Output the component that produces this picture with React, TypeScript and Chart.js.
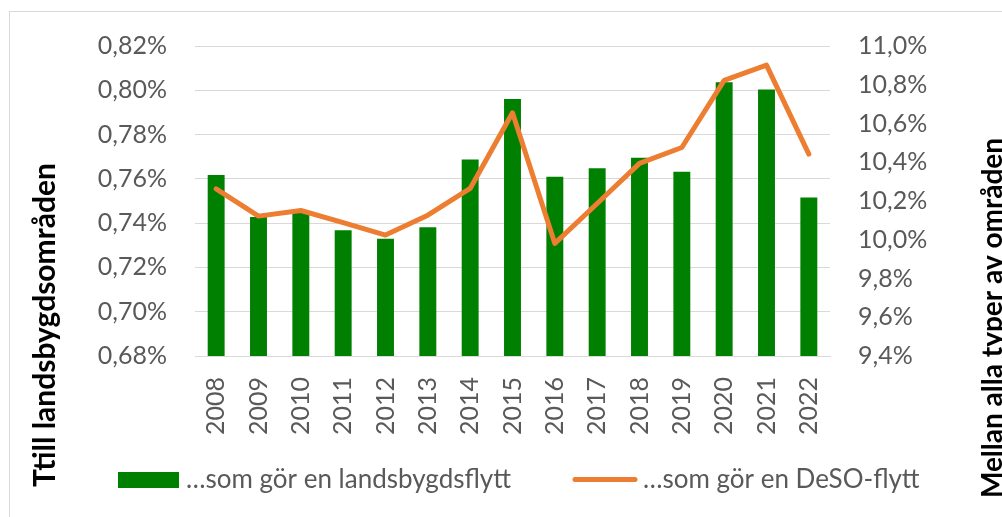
import React, { useEffect, useRef } from "react";
import { Chart, registerables } from "chart.js";

Chart.register(...registerables);

const years = ["2008","2009","2010","2011","2012","2013","2014","2015","2016","2017","2018","2019","2020","2021","2022"];
const landsbygdsflytt = [0.7617,0.7428,0.7447,0.7368,0.7329,0.7382,0.7687,0.7961,0.7609,0.7648,0.7695,0.7632,0.8036,0.8003,0.7516];
const desoFlytt = [10.263,10.122,10.151,10.088,10.024,10.127,10.265,10.655,9.981,10.187,10.394,10.476,10.823,10.901,10.442];
const seriesNames = ["…som gör en landsbygdsflytt", "…som gör en DeSO-flytt"];
const leftTitle = "Ttill landsbygdsområden";
const rightTitle = "Mellan alla typer av områden";

const GREEN = "#008000";
const ORANGE = "#ED7D31";
const GRAY = "#595959";
const FONT = "Lato";

const decor = {
  id: "decor",
  beforeDraw(chart: any) {
    const ctx = chart.ctx;
    ctx.save();
    ctx.fillStyle = "#ffffff";
    ctx.fillRect(0, 0, chart.width, chart.height);
    ctx.strokeStyle = "#d9d9d9";
    ctx.lineWidth = 1;
    ctx.strokeRect(9.5, 11.5, chart.width + 10, chart.height + 10);
    ctx.restore();
  },
  afterDraw(chart: any) {
    const ctx = chart.ctx;
    ctx.save();
    // axis titles
    ctx.fillStyle = "#000000";
    ctx.textAlign = "center";
    ctx.textBaseline = "middle";
    ctx.font = `bold 30px ${FONT}`;
    ctx.save();
    ctx.translate(45, 325);
    ctx.rotate(-Math.PI / 2);
    ctx.fillText(leftTitle, 0, 0);
    ctx.restore();
    ctx.font = `bold 28px ${FONT}`;
    ctx.save();
    ctx.translate(993, 318);
    ctx.rotate(-Math.PI / 2);
    ctx.fillText(rightTitle, 0, 0);
    ctx.restore();
    // legend
    ctx.fillStyle = GREEN;
    ctx.fillRect(118, 472, 61, 16);
    ctx.strokeStyle = ORANGE;
    ctx.lineWidth = 5;
    ctx.lineCap = "round";
    ctx.beginPath();
    ctx.moveTo(575, 479.5);
    ctx.lineTo(635, 479.5);
    ctx.stroke();
    ctx.fillStyle = GRAY;
    ctx.font = `26px ${FONT}`;
    ctx.textAlign = "left";
    ctx.textBaseline = "middle";
    ctx.fillText(seriesNames[0], 186, 480);
    ctx.fillText(seriesNames[1], 643, 480);
    ctx.restore();
  },
};

export default function App() {
  const ref = useRef<HTMLCanvasElement | null>(null);
  useEffect(() => {
    let chart: any = null;
    let cancelled = false;
    const make = () => {
      if (cancelled || !ref.current) return;
      chart = new Chart(ref.current, {
        type: "bar",
        data: {
          labels: years,
          datasets: [
            {
              type: "line",
              label: seriesNames[1],
              data: desoFlytt,
              yAxisID: "y1",
              borderColor: ORANGE,
              backgroundColor: ORANGE,
              borderWidth: 5,
              pointRadius: 0,
              tension: 0,
              borderCapStyle: "round",
              borderJoinStyle: "round",
              order: 0,
            } as any,
            {
              type: "bar",
              label: seriesNames[0],
              data: landsbygdsflytt,
              yAxisID: "y",
              backgroundColor: GREEN,
              barPercentage: 0.4,
              categoryPercentage: 1,
              order: 1,
            } as any,
          ],
        },
        options: {
          responsive: false,
          animation: false,
          devicePixelRatio: 1,
          layout: { padding: { top: 46, left: 0, right: 0, bottom: 0 } },
          plugins: { legend: { display: false }, tooltip: { enabled: false } },
          scales: {
            x: {
              position: "bottom",
              grid: { display: false, drawTicks: false },
              border: { display: true, color: "#d9d9d9" },
              ticks: {
                minRotation: 90,
                maxRotation: 90,
                padding: 21,
                color: GRAY,
                font: { family: FONT, size: 25 },
              },
              afterFit: (s: any) => { s.height = 161; },
            },
            y: {
              position: "left",
              min: 0.68,
              max: 0.82,
              grid: { color: "#d9d9d9", lineWidth: 1, drawTicks: false },
              border: { display: false },
              ticks: {
                stepSize: 0.02,
                padding: 28,
                color: GRAY,
                font: { family: FONT, size: 25 },
                callback: (v: any) => Number(v).toFixed(2).replace(".", ",") + "%",
              },
              afterFit: (s: any) => { s.width = 195; },
            },
            y1: {
              position: "right",
              min: 9.4,
              max: 11.0,
              grid: { display: false, drawTicks: false },
              border: { display: false },
              ticks: {
                stepSize: 0.2,
                padding: 28,
                color: GRAY,
                font: { family: FONT, size: 25 },
                callback: (v: any) => Number(v).toFixed(1).replace(".", ",") + "%",
              },
              afterFit: (s: any) => { s.width = 172; },
            },
          },
        } as any,
        plugins: [decor],
      });
    };
    const fonts: any = (document as any).fonts;
    if (fonts && fonts.load) {
      Promise.all([fonts.load(`25px ${FONT}`), fonts.load(`bold 30px ${FONT}`)]).then(make, make);
    } else {
      make();
    }
    return () => {
      cancelled = true;
      if (chart) chart.destroy();
    };
  }, []);
  return (
    <div style={{ position: "fixed", left: 0, top: 0, width: 1002, height: 517, background: "#fff" }}>
      <canvas ref={ref} width={1002} height={517} />
    </div>
  );
}
